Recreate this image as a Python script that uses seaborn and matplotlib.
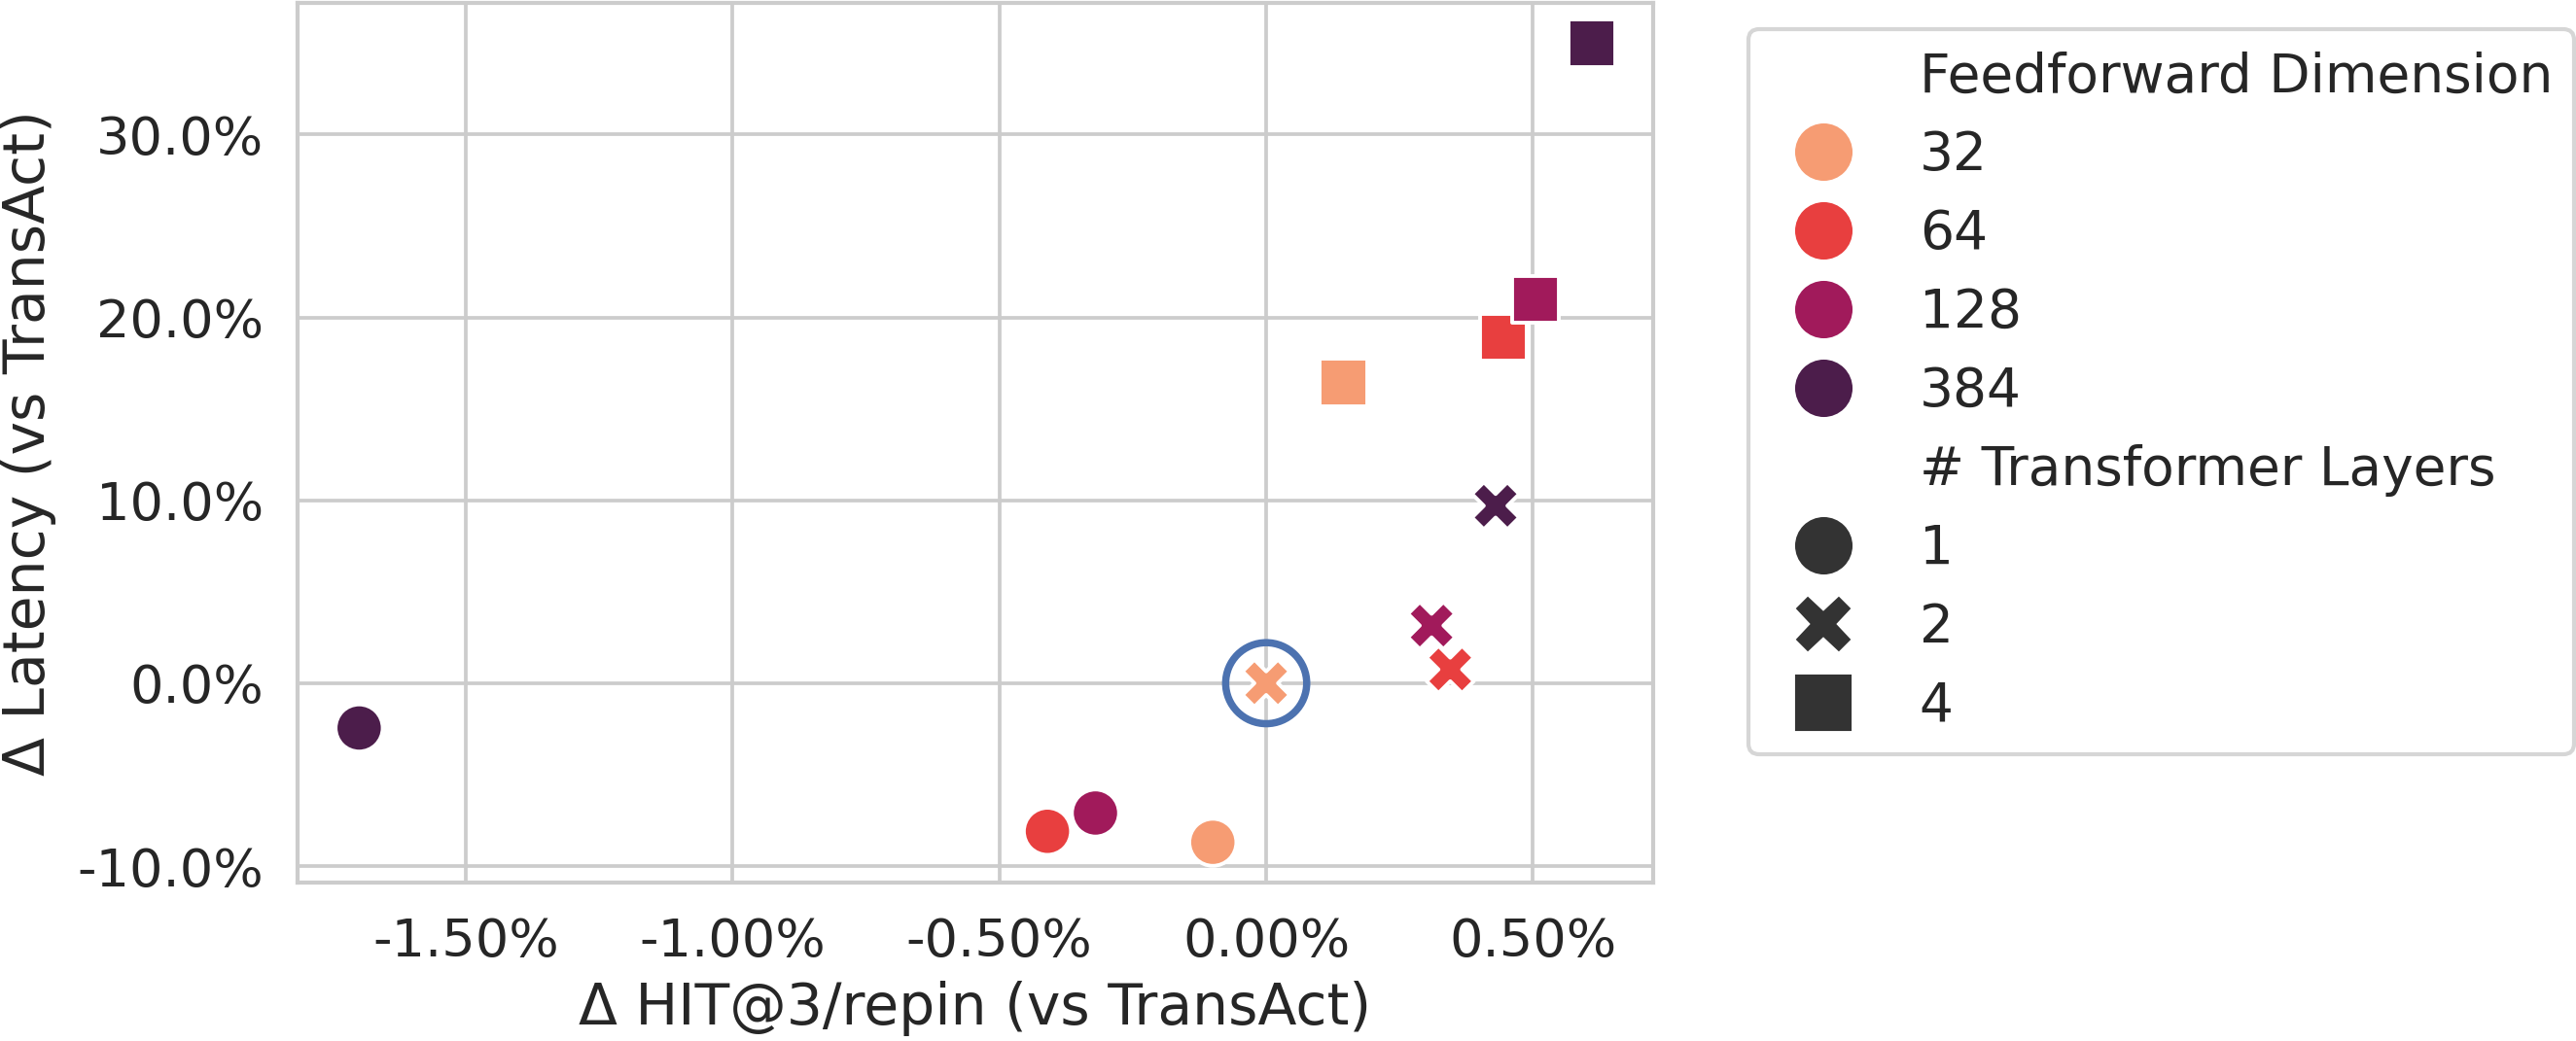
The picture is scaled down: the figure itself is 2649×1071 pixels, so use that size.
import numpy as np
import pandas as pd
import matplotlib.pyplot as plt
import seaborn as sns
from matplotlib.ticker import PercentFormatter

# values (percent)
ffn_dim = ['32', '64', '128', '384', '32', '128', '64', '384', '32', '64', '128', '384']
n_layers = ['1', '1', '1', '1', '2', '2', '2', '2', '4', '4', '4', '4']
hit_delta = [-0.10, -0.41, -0.32, -1.70, 0.00, 0.31, 0.345, 0.43, 0.145, 0.445, 0.505, 0.61]
latency_delta = [-8.7, -8.1, -7.1, -2.45, 0.0, 3.15, 0.75, 9.7, 16.45, 18.9, 21.0, 35.0]

ffn_order = ['32', '64', '128', '384']
layer_order = ['1', '2', '4']

# TransAct baseline (highlighted)
base_hit = [0.0]
base_latency = [0.0]

df = pd.DataFrame({
    'hit': hit_delta,
    'latency': latency_delta,
    'Feedforward Dimension': ffn_dim,
    '# Transformer Layers': n_layers,
})

sns.set_theme(style="whitegrid")
plt.rcParams['font.family'] = ['DejaVu Sans']
plt.rcParams['axes.unicode_minus'] = False
plt.rcParams['axes.labelsize'] = 14.0
plt.rcParams['xtick.labelsize'] = 13.0
plt.rcParams['ytick.labelsize'] = 13.0
plt.rcParams['legend.fontsize'] = 13.2
plt.rcParams['axes.linewidth'] = 1.0
plt.rcParams['grid.linewidth'] = 0.9

fig, ax = plt.subplots(figsize=(2649 / 300, 1071 / 300), dpi=300)
plt.subplots_adjust(left=0.1155, right=0.6418, top=0.997, bottom=0.1525)

sns.scatterplot(data=df, x='hit', y='latency',
                hue='Feedforward Dimension', style='# Transformer Layers',
                hue_order=ffn_order, style_order=layer_order,
                palette='rocket_r', markers=['o', 'X', 's'], s=135, ax=ax)

# ring around the baseline point
ax.scatter(base_hit, base_latency, s=400, facecolors='none',
           edgecolors='#4C72B0', linewidths=1.8, zorder=3)

ax.xaxis.set_major_formatter(PercentFormatter(decimals=2))
ax.yaxis.set_major_formatter(PercentFormatter(decimals=1))
ax.tick_params(axis='both', length=0, pad=8.4)

ax.set_xlabel('Δ HIT@3/repin (vs TransAct)', labelpad=3.5)
ax.set_ylabel('Δ Latency (vs TransAct)', labelpad=5)

sns.move_legend(ax, "upper left", bbox_to_anchor=(1.07, 0.97), borderaxespad=0,
                markerscale=1.3, labelspacing=0.49, frameon=True)

plt.savefig('out.png', dpi=300)
